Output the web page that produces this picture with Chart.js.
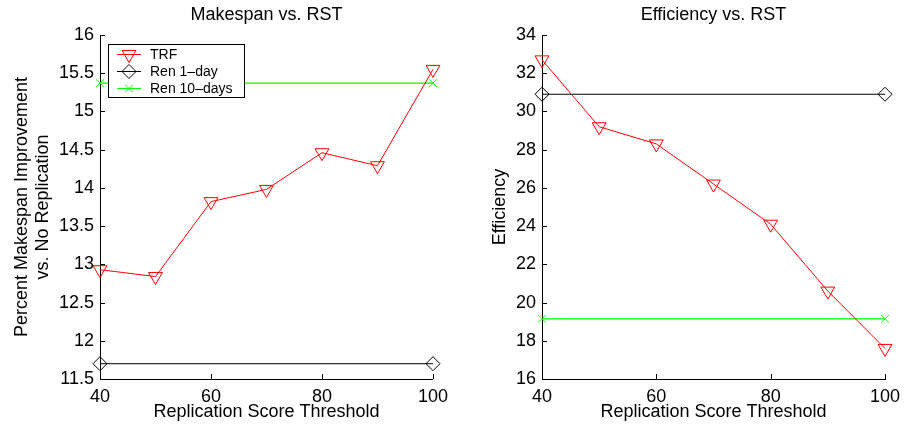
<!DOCTYPE html>
<html>
<head>
<meta charset="utf-8">
<script src="https://cdn.jsdelivr.net/npm/chart.js"></script>
<style>
  body { margin: 0; background: #fff; }
  #wrap { position: relative; width: 910px; height: 431px; }
  canvas { position: absolute; top: 0; }
</style>
</head>
<body>
<div id="wrap">
  <canvas id="c1" width="455" height="431" style="left:0"></canvas>
  <canvas id="c2" width="455" height="431" style="left:455px"></canvas>
</div>
<script>
// data
const thresholds = [40, 50, 60, 70, 80, 90, 100];
const renEnds = [40, 100];
const makespanTRF = [12.93, 12.84, 13.82, 13.98, 14.46, 14.29, 15.55];
const makespanRen1 = [11.7, 11.7];
const makespanRen10 = [15.37, 15.37];
const effTRF = [32.7, 29.2, 28.3, 26.2, 24.1, 20.6, 17.6];
const effRen1 = [30.9, 30.9];
const effRen10 = [19.15, 19.15];
const xTicks = [40, 60, 80, 100];
const makespanTicks = [11.5, 12, 12.5, 13, 13.5, 14, 14.5, 15, 15.5, 16];
const effTicks = [16, 18, 20, 22, 24, 26, 28, 30, 32, 34];
const seriesNames = ['TRF', 'Ren 1\u2013day', 'Ren 10\u2013days'];

const FONT = "'Liberation Sans', Arial, Helvetica, sans-serif";

function pts(xs, ys) {
  return xs.map((x, i) => ({ x: x, y: ys[i] }));
}

function datasets(trf, ren1, ren10) {
  return [
    {
      label: seriesNames[0], data: pts(thresholds, trf),
      borderColor: '#ff0000', borderWidth: 1,
      pointStyle: 'triangle', pointRotation: 180, pointRadius: 8,
      pointBorderColor: '#ff0000', pointBackgroundColor: 'rgba(0,0,0,0)', pointBorderWidth: 1,
      clip: false
    },
    {
      label: seriesNames[1], data: pts(renEnds, ren1),
      borderColor: '#000000', borderWidth: 1,
      pointStyle: 'rectRot', pointRadius: 7,
      pointBorderColor: '#000000', pointBackgroundColor: 'rgba(0,0,0,0)', pointBorderWidth: 1,
      clip: false
    },
    {
      label: seriesNames[2], data: pts(renEnds, ren10),
      borderColor: '#00ff00', borderWidth: 1.2,
      pointStyle: 'crossRot', pointRadius: 5.5,
      pointBorderColor: '#00ff00', pointBorderWidth: 1,
      clip: false
    }
  ];
}

// matlab style tick marks pointing into the plot
const inwardTicks = {
  id: 'inwardTicks',
  afterDraw(chart) {
    const ctx = chart.ctx, a = chart.chartArea;
    const xs = chart.scales.x, ys = chart.scales.y;
    ctx.save();
    ctx.strokeStyle = '#000';
    ctx.lineWidth = 1;
    ctx.beginPath();
    ys.ticks.forEach(t => {
      const y = Math.round(ys.getPixelForValue(t.value)) + 0.5;
      ctx.moveTo(a.left, y);
      ctx.lineTo(a.left + 5, y);
    });
    xs.ticks.forEach(t => {
      const x = Math.round(xs.getPixelForValue(t.value)) + 0.5;
      ctx.moveTo(x, a.bottom);
      ctx.lineTo(x, a.bottom - 5);
    });
    ctx.stroke();
    ctx.restore();
  }
};

// legend box inside the left plot
const boxLegend = {
  id: 'boxLegend',
  afterDraw(chart) {
    const ctx = chart.ctx;
    const bx = 108, by = 44, bw = 136, bh = 53;
    const rows = [54, 71, 88];
    ctx.save();
    ctx.fillStyle = '#fff';
    ctx.fillRect(bx, by, bw, bh);
    ctx.strokeStyle = '#000';
    ctx.lineWidth = 1;
    ctx.strokeRect(bx + 0.5, by + 0.5, bw, bh);
    chart.data.datasets.forEach((ds, i) => {
      const y = rows[i] + 0.5;
      ctx.strokeStyle = ds.borderColor;
      ctx.lineWidth = 1;
      ctx.beginPath();
      ctx.moveTo(117, y);
      ctx.lineTo(141, y);
      ctx.stroke();
      ctx.fillStyle = 'rgba(0,0,0,0)';
      Chart.helpers.drawPoint(ctx, {
        pointStyle: ds.pointStyle, radius: ds.pointRadius,
        rotation: ds.pointRotation || 0, borderWidth: 1
      }, 129, y);
      ctx.fillStyle = '#000';
      ctx.font = '14px ' + FONT;
      ctx.textBaseline = 'middle';
      ctx.textAlign = 'left';
      ctx.fillText(ds.label, 150, rows[i] + 1);
    });
    ctx.restore();
  }
};

function makeChart(id, title, yTitle, yTicks, yTitlePad, yWidth, padRight, ds, extra) {
  return new Chart(document.getElementById(id), {
    type: 'line',
    data: { datasets: ds },
    plugins: [inwardTicks].concat(extra),
    options: {
      responsive: false,
      animation: false,
      devicePixelRatio: 1,
      layout: { padding: { left: 0, right: padRight, top: 0, bottom: 0 } },
      elements: { line: { tension: 0 } },
      plugins: {
        legend: { display: false },
        tooltip: { enabled: false },
        title: {
          display: true, text: title, color: '#000', fullSize: false,
          font: { family: FONT, size: 18, weight: 'normal', lineHeight: 1.15 },
          padding: { top: 5, bottom: 9.3 }
        }
      },
      scales: {
        x: {
          type: 'linear', min: 40, max: 100,
          afterBuildTicks: s => { s.ticks = xTicks.map(v => ({ value: v })); },
          afterFit: s => { s.height = 52; },
          grid: { display: false, drawTicks: false },
          border: { display: true, color: '#000', width: 1 },
          ticks: {
            color: '#000', padding: 7, maxRotation: 0,
            font: { family: FONT, size: 18 }, callback: v => String(v)
          },
          title: {
            display: true, text: 'Replication Score Threshold', color: '#000',
            font: { family: FONT, size: 18, lineHeight: 1.15 }, padding: { top: 0, bottom: 9 }
          }
        },
        y: {
          type: 'linear', min: yTicks[0], max: yTicks[yTicks.length - 1],
          afterBuildTicks: s => { s.ticks = yTicks.map(v => ({ value: v })); },
          afterFit: s => { s.width = yWidth; },
          grid: { display: false, drawTicks: false },
          border: { display: true, color: '#000', width: 1 },
          ticks: {
            color: '#000', padding: 6,
            font: { family: FONT, size: 18 }, callback: v => String(v)
          },
          title: {
            display: true, text: yTitle, color: '#000',
            font: { family: FONT, size: 18, lineHeight: 1.15 }, padding: { top: yTitlePad, bottom: 0 }
          }
        }
      }
    }
  });
}

makeChart('c1', 'Makespan vs. RST',
  ['Percent Makespan Improvement', 'vs. No Replication'],
  makespanTicks, 12, 100, 12,
  datasets(makespanTRF, makespanRen1, makespanRen10), [boxLegend]);

makeChart('c2', 'Efficiency vs. RST', 'Efficiency',
  effTicks, 35, 87, 25,
  datasets(effTRF, effRen1, effRen10), []);
</script>
</body>
</html>
